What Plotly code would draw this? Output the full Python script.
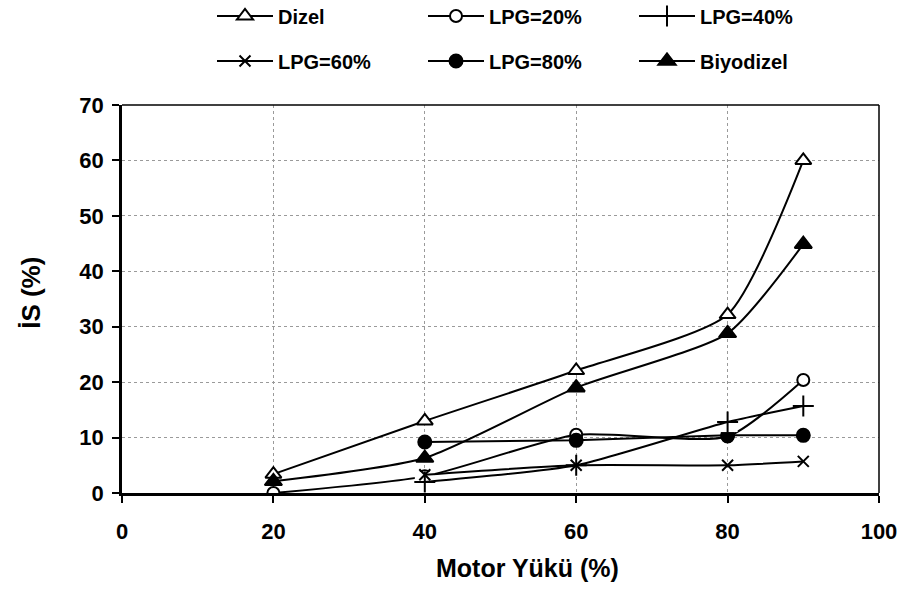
import plotly.graph_objects as go

# Engine load (%) at which each fuel was measured
load_full = [20, 40, 60, 80, 90]
load_lpg = [40, 60, 80, 90]

# Smoke opacity (%) per fuel
dizel = [3.4, 13.0, 22.1, 32.2, 60.0]
lpg20 = [0.0, 3.0, 10.5, 10.2, 20.4]
lpg40 = [2.0, 5.0, 12.8, 15.7]
lpg60 = [3.3, 5.0, 5.0, 5.7]
lpg80 = [9.2, 9.5, 10.4, 10.4]
biyodizel = [2.1, 6.3, 19.0, 28.8, 44.9]

x_ticks = [0, 20, 40, 60, 80, 100]
y_ticks = [0, 10, 20, 30, 40, 50, 60, 70]

FONT = "Liberation Sans, Arial, sans-serif"
BLACK = "#000000"
W, H = 909, 594
ML, MR, MT, MB = 122, 23, 105, 101
PW, PH = W - ML - MR, H - MT - MB


def series(name, x, y, symbol, fill, size, legend, rank):
    return go.Scatter(
        x=x, y=y, name=name, mode="lines+markers",
        line=dict(color=BLACK, width=2, shape="spline", smoothing=0.6),
        marker=dict(symbol=symbol, size=size, color=fill,
                    line=dict(color=BLACK, width=2)),
        legend=legend, legendrank=rank,
    )


fig = go.Figure()
fig.add_trace(series("Dizel", load_full, dizel, "triangle-up", "white", 14, "legend", 1))
fig.add_trace(series("LPG=20%", load_full, lpg20, "circle", "white", 12, "legend", 2))
fig.add_trace(series("LPG=80%", load_lpg, lpg80, "circle", BLACK, 13, "legend2", 5))
fig.add_trace(series("Biyodizel", load_full, biyodizel, "triangle-up", BLACK, 15, "legend2", 6))
# white patch behind the "+" markers that breaks the lines around them
fig.add_trace(go.Scatter(
    x=load_lpg, y=lpg40, mode="markers", showlegend=False, hoverinfo="skip",
    marker=dict(symbol="square", size=20, color="white", line=dict(width=0)),
))
fig.add_trace(series("LPG=40%", load_lpg, lpg40, "cross-thin", BLACK, 15, "legend", 3))
fig.add_trace(series("LPG=60%", load_lpg, lpg60, "x-thin", BLACK, 11, "legend2", 4))

# thin frame on the top and right of the plot area
for x0, y0, x1, y1 in [(0, 1, 1, 1), (1, 0, 1, 1)]:
    fig.add_shape(type="line", xref="x domain", yref="y domain",
                  x0=x0, y0=y0, x1=x1, y1=y1,
                  line=dict(color=BLACK, width=1.5))

# axis titles
fig.add_annotation(text="Motor Yükü (%)", xref="paper", yref="paper",
                   x=(531 - ML) / PW, y=-(568 - (H - MB)) / PH,
                   xanchor="center", yanchor="middle", showarrow=False,
                   font=dict(family=FONT, size=25, color=BLACK, weight="bold"))
fig.add_annotation(text="İS (%)", xref="paper", yref="paper", textangle=-90,
                   x=(30 - ML) / PW, y=((H - MB) - 293) / PH,
                   xanchor="center", yanchor="middle", showarrow=False,
                   font=dict(family=FONT, size=26, color=BLACK, weight="bold"))

legend_common = dict(
    orientation="h", xref="container", yref="container",
    xanchor="left", yanchor="middle",
    font=dict(family=FONT, size=20, color=BLACK, weight="bold"),
    entrywidth=140, entrywidthmode="pixels", itemwidth=56,
    bgcolor="rgba(0,0,0,0)", traceorder="normal",
)

axis_common = dict(
    showline=True, linecolor=BLACK, linewidth=2.5,
    ticks="outside", ticklen=7, tickwidth=2, tickcolor=BLACK,
    showgrid=True, gridcolor="#9a9a9a", griddash="dot", gridwidth=1,
    zeroline=False,
    tickfont=dict(family=FONT, size=22, color=BLACK, weight="bold"),
)

fig.update_layout(
    width=W, height=H,
    margin=dict(l=ML, r=MR, t=MT, b=MB),
    paper_bgcolor="white", plot_bgcolor="white",
    font=dict(family=FONT, size=20, color=BLACK, weight="bold"),
    legend=dict(x=212 / W, y=1 - 16 / H, **legend_common),
    legend2=dict(x=212 / W, y=1 - 61 / H, **legend_common),
    xaxis=dict(range=[0, 100], tickvals=x_ticks,
               ticktext=[str(v) for v in x_ticks],
               ticklabelstandoff=10, **axis_common),
    yaxis=dict(range=[0, 70], tickvals=y_ticks,
               ticktext=[str(v) for v in y_ticks],
               ticklabelstandoff=4, **axis_common),
)

fig.write_html("out.html")
